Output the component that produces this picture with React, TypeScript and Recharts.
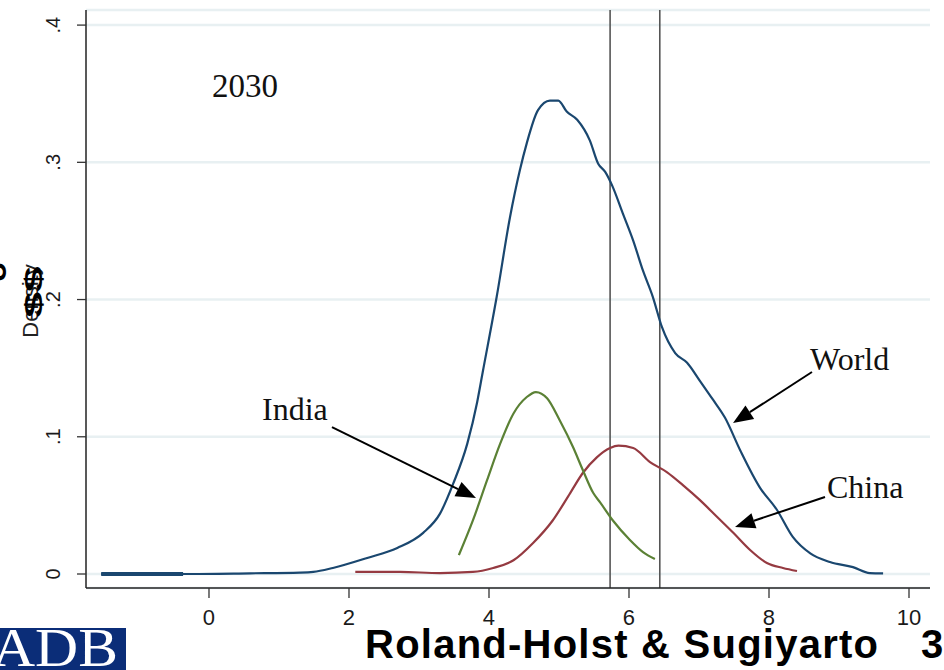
import React from "react";
import {
  LineChart,
  Line,
  XAxis,
  YAxis,
  CartesianGrid,
  ReferenceLine,
  ReferenceDot,
} from "recharts";

// Kernel density estimates of income in 2030 (log scale on the x axis)
const worldX = [
  -1.54, -0.37, 0.59, 1.3, 1.49, 1.77, 2.26, 2.69, 3.06, 3.3, 3.49, 3.69, 3.83, 3.91,
  4.11, 4.3, 4.44, 4.54, 4.7, 4.87, 4.99, 5.11, 5.26, 5.44, 5.56, 5.66, 5.76, 5.91,
  6.06, 6.2, 6.34, 6.47, 6.66, 6.83, 7.01, 7.2, 7.37, 7.59, 7.87, 8.11, 8.34, 8.59,
  8.87, 9.2, 9.44, 9.63,
];
const worldDensity = [
  0, 0, 0.0005, 0.001, 0.0015, 0.0044, 0.0117, 0.019, 0.03, 0.044, 0.066, 0.095, 0.125,
  0.147, 0.202, 0.26, 0.294, 0.314, 0.338, 0.345, 0.345, 0.337, 0.331, 0.316, 0.299,
  0.293, 0.283, 0.263, 0.243, 0.221, 0.202, 0.18, 0.161, 0.154, 0.141, 0.127, 0.114,
  0.09, 0.063, 0.047, 0.027, 0.015, 0.0087, 0.005, 0.0007, 0.0005,
];

const indiaX = [
  3.57, 3.77, 3.97, 4.16, 4.35, 4.54, 4.67, 4.83, 5.01, 5.2, 5.34, 5.49, 5.59, 5.77,
  6.01, 6.2, 6.37,
];
const indiaDensity = [
  0.0138, 0.039, 0.068, 0.095, 0.117, 0.129, 0.1326, 0.128, 0.112, 0.0925, 0.0758,
  0.059, 0.052, 0.039, 0.025, 0.016, 0.011,
];

const chinaX = [
  2.09, 2.73, 3.3, 3.77, 4.06, 4.35, 4.63, 4.91, 5.16, 5.34, 5.54, 5.73, 5.85, 6.06,
  6.3, 6.54, 6.77, 7.01, 7.26, 7.49, 7.73, 7.97, 8.2, 8.4,
];
const chinaDensity = [
  0.0015, 0.0015, 0.0007, 0.0015, 0.0044, 0.01, 0.0226, 0.039, 0.059, 0.0736, 0.085,
  0.0918, 0.0935, 0.0918, 0.0816, 0.0743, 0.0648, 0.054, 0.0415, 0.03, 0.0175, 0.008,
  0.0044, 0.0022,
];

// Heavier flat stretch of the world curve at the far left
const worldTailX = [-1.54, -0.37];

const xTicks = [0, 2, 4, 6, 8, 10];
const yTicks = [0, 0.1, 0.2, 0.3, 0.4];
const markerLines = [5.73, 6.44];

const toPoints = (xs: number[], ys: number[]) => xs.map((x, i) => ({ x, y: ys[i] }));

const worldData = toPoints(worldX, worldDensity);
const indiaData = toPoints(indiaX, indiaDensity);
const chinaData = toPoints(chinaX, chinaDensity);
const worldTail = worldTailX.map((x) => ({ x, y: 0 }));

const NAVY = "#1a476f";
const MAROON = "#953a41";
const GREEN = "#5b8135";
const SANS = "'Liberation Sans', Arial, sans-serif";
const SERIF = "'Liberation Serif', 'Times New Roman', serif";

const fmtY = (v: number) => (v === 0 ? "0" : "." + Math.round(v * 10));

const YTick = (props: any) => {
  const { y, payload } = props;
  return (
    <text
      x={60}
      y={y}
      transform={`rotate(-90 60 ${y})`}
      textAnchor="middle"
      fontFamily={SANS}
      fontSize={20}
      fill="#1a1a1a"
    >
      {fmtY(payload.value)}
    </text>
  );
};

const XTick = (props: any) => {
  const { x, y, payload } = props;
  return (
    <text x={x} y={y + 27} textAnchor="middle" fontFamily={SANS} fontSize={22} fill="#1a1a1a">
      {payload.value}
    </text>
  );
};

// Straight annotation arrow with a filled triangular head at the end point
const Arrow = (props: any) => {
  const { x1, y1, x2, y2 } = props;
  const dx = x2 - x1;
  const dy = y2 - y1;
  const len = Math.sqrt(dx * dx + dy * dy);
  const ux = dx / len;
  const uy = dy / len;
  const headLen = 20;
  const headHalf = 8;
  const bx = x2 - ux * headLen;
  const by = y2 - uy * headLen;
  const pts = [
    `${x2},${y2}`,
    `${bx - uy * headHalf},${by + ux * headHalf}`,
    `${bx + uy * headHalf},${by - ux * headHalf}`,
  ].join(" ");
  return (
    <g>
      <line x1={x1} y1={y1} x2={bx} y2={by} stroke="#000" strokeWidth={2} />
      <polygon points={pts} fill="#000" />
    </g>
  );
};

const labelShape = (text: string, size: number) => (p: any) => (
  <text x={p.cx} y={p.cy} fontFamily={SERIF} fontSize={size} fill="#111">
    {text}
  </text>
);

const annotations = [
  { text: "2030", x: 0.043, y: 0.3475 },
  { text: "India", x: 0.757, y: 0.1122 },
  { text: "World", x: 8.586, y: 0.1486 },
  { text: "China", x: 8.829, y: 0.0554 },
];

const arrows = [
  { from: { x: 1.757, y: 0.1071 }, to: { x: 3.814, y: 0.0554 } },
  { from: { x: 8.614, y: 0.1472 }, to: { x: 7.486, y: 0.11 } },
  { from: { x: 8.8, y: 0.0561 }, to: { x: 7.514, y: 0.0342 } },
];

export default function App() {
  return (
    <div
      style={{
        position: "absolute",
        left: 0,
        top: 0,
        width: 944,
        height: 670,
        background: "#fff",
        overflow: "hidden",
      }}
    >
      <LineChart width={944} height={670} margin={{ top: 10, right: 14, bottom: 52, left: 0 }}>
        <CartesianGrid horizontal vertical={false} stroke="#e8f0f2" strokeWidth={2.5} />
        <XAxis
          dataKey="x"
          type="number"
          domain={[-1.757, 10.3]}
          allowDataOverflow
          ticks={xTicks}
          tick={<XTick />}
          tickSize={10}
          tickMargin={0}
          height={30}
          axisLine={{ stroke: "#222", strokeWidth: 1.5 }}
          tickLine={{ stroke: "#333", strokeWidth: 1.3 }}
        />
        <YAxis
          type="number"
          domain={[-0.0102, 0.411]}
          allowDataOverflow
          ticks={yTicks}
          tick={<YTick />}
          tickSize={9}
          width={86}
          axisLine={{ stroke: "#222", strokeWidth: 1.5 }}
          tickLine={{ stroke: "#333", strokeWidth: 1.3 }}
        />
        {markerLines.map((v) => (
          <ReferenceLine key={v} x={v} stroke="#555" strokeWidth={1.6} />
        ))}
        <Line
          data={worldTail}
          dataKey="y"
          type="linear"
          stroke={NAVY}
          strokeWidth={4}
          dot={false}
          isAnimationActive={false}
        />
        <Line
          data={worldData}
          dataKey="y"
          type="monotone"
          stroke={NAVY}
          strokeWidth={2.2}
          dot={false}
          isAnimationActive={false}
        />
        <Line
          data={chinaData}
          dataKey="y"
          type="monotone"
          stroke={MAROON}
          strokeWidth={2.2}
          dot={false}
          isAnimationActive={false}
        />
        <Line
          data={indiaData}
          dataKey="y"
          type="monotone"
          stroke={GREEN}
          strokeWidth={2.2}
          dot={false}
          isAnimationActive={false}
        />
        {arrows.map((a, i) => (
          <ReferenceLine
            key={"arrow" + i}
            segment={[a.from, a.to]}
            shape={<Arrow />}
            ifOverflow="visible"
          />
        ))}
        {annotations.map((a) => (
          <ReferenceDot
            key={a.text}
            x={a.x}
            y={a.y}
            r={0}
            ifOverflow="visible"
            shape={labelShape(a.text, a.text === "2030" ? 33 : 32)}
          />
        ))}
      </LineChart>

      <svg
        width={944}
        height={670}
        style={{ position: "absolute", left: 0, top: 0, pointerEvents: "none" }}
      >
        {/* y-axis title with overlapping slide lettering */}
        <text
          x={38}
          y={301}
          transform="rotate(-90 38 301)"
          textAnchor="middle"
          fontFamily={SANS}
          fontSize={22}
          fill="#222"
        >
          Density
        </text>
        <text
          x={0}
          y={0}
          transform="translate(42 292) rotate(-90) scale(1 0.5)"
          textAnchor="middle"
          fontFamily={SANS}
          fontWeight="bold"
          fontSize={46}
          fill="#000"
        >
          $$
        </text>
        <text
          x={0}
          y={0}
          transform="translate(6 272) rotate(-90)"
          textAnchor="middle"
          fontFamily={SANS}
          fontWeight="bold"
          fontSize={28}
          fill="#000"
        >
          U
        </text>

        {/* footer */}
        <rect x={0} y={628} width={126} height={42} fill="#0b2d78" />
        <text
          x={-8}
          y={666}
          fontFamily={SERIF}
          fontSize={55}
          fill="#fff"
          textLength={126}
          lengthAdjust="spacingAndGlyphs"
        >
          ADB
        </text>
        <text
          x={365}
          y={658}
          fontFamily={SANS}
          fontWeight="bold"
          fontSize={40}
          fill="#000"
          textLength={513}
        >
          Roland-Holst &amp; Sugiyarto
        </text>
        <text x={921} y={658} fontFamily={SANS} fontWeight="bold" fontSize={40} fill="#000">
          3
        </text>
      </svg>
    </div>
  );
}
